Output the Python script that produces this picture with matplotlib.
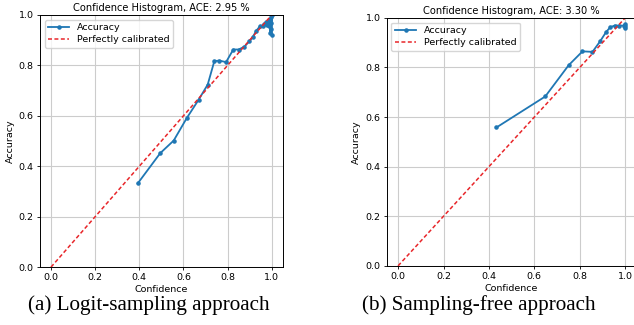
import matplotlib
matplotlib.use("Agg")
import matplotlib.pyplot as plt

# Left panel: logit-sampling approach
conf_a = [0.393, 0.495, 0.556, 0.615, 0.669, 0.710, 0.740, 0.763, 0.793, 0.826,
          0.850, 0.876, 0.899, 0.914, 0.929, 0.947, 0.960, 0.967, 0.974, 0.980,
          0.985, 0.989, 0.992, 0.994, 0.996, 0.997, 0.998, 0.999, 1.000]
acc_a = [0.332, 0.452, 0.502, 0.591, 0.664, 0.724, 0.817, 0.819, 0.813, 0.863,
         0.863, 0.874, 0.896, 0.912, 0.936, 0.956, 0.958, 0.963, 0.972, 0.960,
         0.975, 0.955, 0.985, 0.930, 0.970, 0.945, 0.990, 0.920, 1.000]
title_a = "Confidence Histogram, ACE: 2.95 %"
caption_a = "(a) Logit-sampling approach"

# Right panel: sampling-free approach
conf_b = [0.433, 0.648, 0.751, 0.812, 0.856, 0.890, 0.916, 0.934, 0.953, 0.971,
          0.993, 0.998, 0.999, 1.000]
acc_b = [0.558, 0.683, 0.809, 0.865, 0.863, 0.906, 0.943, 0.962, 0.969, 0.969,
         0.969, 0.975, 0.958, 0.968]
title_b = "Confidence Histogram, ACE: 3.30 %"
caption_b = "(b) Sampling-free approach"

ideal = [0.0, 1.0]
ticks = [0.0, 0.2, 0.4, 0.6, 0.8, 1.0]

fig = plt.figure(figsize=(6.34, 3.25), dpi=100)
axA = fig.add_axes([0.063, 0.178, 0.383, 0.776])
axB = fig.add_axes([0.610, 0.182, 0.394, 0.763])

fs = 6.8
for ax, c, a, t in [(axA, conf_a, acc_a, title_a), (axB, conf_b, acc_b, title_b)]:
    ax.plot(c, a, marker='.', markersize=4.5, linewidth=1.3, color='tab:blue', label='Accuracy')
    ax.plot(ideal, ideal, color='#e8262a', linestyle=(0, (2.6, 1.6)), linewidth=1.1,
            label='Perfectly calibrated')
    ax.set_ylim(0, 1)
    ax.set_xlim(-0.05, 1.05)
    ax.set_xticks(ticks)
    ax.set_yticks(ticks)
    ax.grid(True, color='#cccccc', linewidth=0.8)
    ax.tick_params(labelsize=fs, length=2.5, width=0.6, pad=2)
    ax.set_title(t, fontsize=fs + 0.3, pad=3)
    ax.set_xlabel('Confidence', fontsize=fs, labelpad=2)
    ax.set_ylabel('Accuracy', fontsize=fs, labelpad=3)
    ax.legend(loc='upper left', fontsize=fs, handlelength=2.2, borderpad=0.4,
              labelspacing=0.3, framealpha=0.8)
    for s in ax.spines.values():
        s.set_linewidth(0.7)

fig.text(0.235, 0.062, caption_a, ha='center', va='center', family='Liberation Serif', fontsize=15.2)
fig.text(0.755, 0.062, caption_b, ha='center', va='center', family='Liberation Serif', fontsize=15.2)

fig.savefig('out.png', dpi=100)
